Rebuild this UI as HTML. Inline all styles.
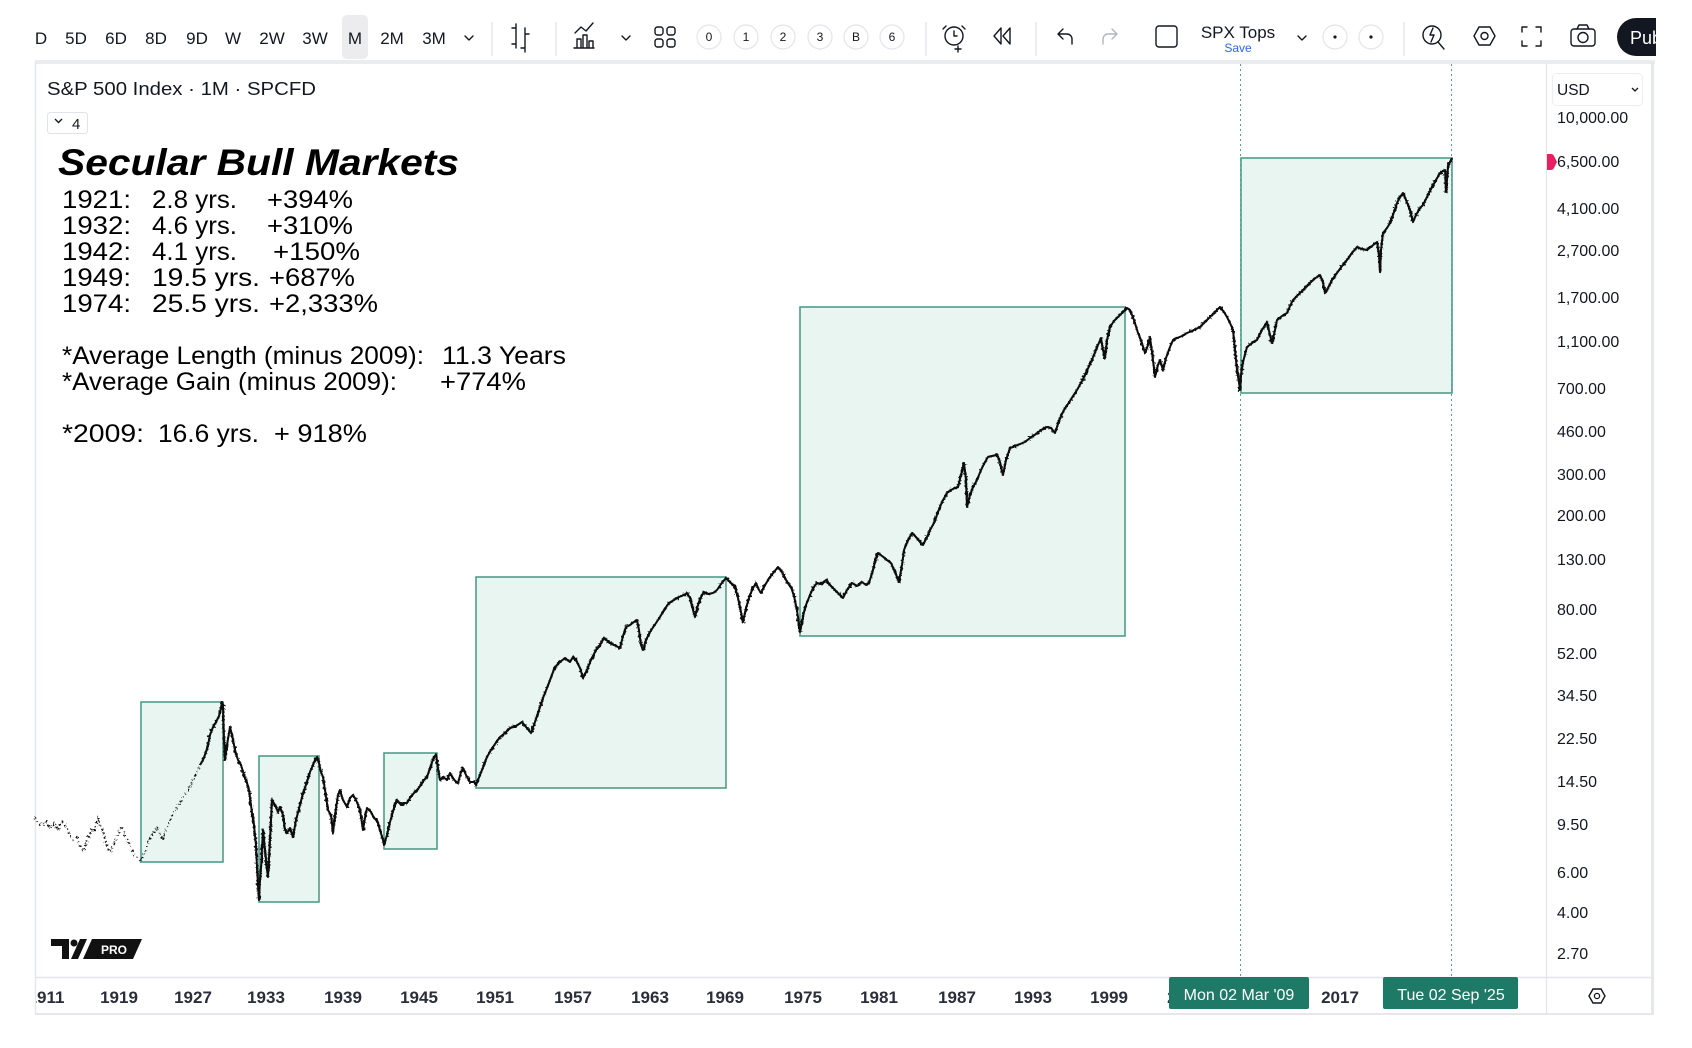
<!DOCTYPE html>
<html><head><meta charset="utf-8"><style>
html,body{margin:0;padding:0;background:#fff;}
svg{display:block;}
text{font-family:"Liberation Sans",Arial,sans-serif;}
</style></head><body>
<svg width="1692" height="1048" viewBox="0 0 1692 1048" xmlns="http://www.w3.org/2000/svg">
<defs>
<clipPath id="cl"><rect x="36" y="62" width="1620" height="960"/></clipPath>
<clipPath id="pub"><rect x="1600" y="0" width="56" height="60"/></clipPath>
<filter id="jit" x="-5%" y="-5%" width="110%" height="110%">
<feTurbulence type="fractalNoise" baseFrequency="0.45" numOctaves="2" seed="3" result="n"/>
<feDisplacementMap in="SourceGraphic" in2="n" scale="5" xChannelSelector="R" yChannelSelector="G"/>
</filter>
</defs>
<rect width="1692" height="1048" fill="#fff"/>

<!-- Toolbar -->
<g font-size="17" fill="#131722" text-anchor="middle">
<rect x="342" y="15" width="26" height="44" rx="5" fill="#ececee"/>
<text x="41" y="44">D</text>
<text x="76" y="44">5D</text>
<text x="116" y="44">6D</text>
<text x="156" y="44">8D</text>
<text x="197" y="44">9D</text>
<text x="233" y="44">W</text>
<text x="272" y="44">2W</text>
<text x="315" y="44">3W</text>
<text x="355" y="44">M</text>
<text x="392" y="44">2M</text>
<text x="434" y="44">3M</text>
</g>
<g fill="none" stroke="#131722" stroke-width="1.4" stroke-linecap="round" stroke-linejoin="round">
<path d="M465,36 l4,4 l4,-4"/>
<path d="M622,36 l4,4 l4,-4"/>
<path d="M1298,36 l4,4 l4,-4"/>
<path d="M516,24 v24 M512,28 h4 M516,44 h-4 M525,28 v24 M525,34 h4 M525,48 h-4"/>
<path d="M574,48 h20 M577,47 v-8 h4 v8 M583,47 v-12 h4 v12 M589,47 v-6 h4 v6 M575,33 l6,-6 l5,4 l7,-8"/>
<rect x="655" y="27" width="8" height="8" rx="2.5"/><rect x="667" y="27" width="8" height="8" rx="2.5"/>
<rect x="655" y="39" width="8" height="8" rx="2.5"/><rect x="667" y="39" width="8" height="8" rx="2.5"/>
<circle cx="954" cy="36" r="9"/><path d="M954,31 v5 h3 M946,26 l-3,3 M962,26 l3,3 M958,46 v6 M955,49 h6"/>
<path d="M1001,28 L994,36 L1001,44 Z M1010,28 L1003,36 L1010,44 Z"/>
<path d="M1058,34 l5,-5 M1058,34 l5,5 M1058,34 h9 a5,5 0 0 1 5,5 v5"/>
<rect x="1156" y="26" width="21" height="21" rx="3"/>
<circle cx="1432" cy="35" r="9"/><path d="M1438,42 l6,7 M1433,28 l-3,7 h4 l-3,7"/>
<path d="M1474,36 l5,-9 h11 l5,9 l-5,9 h-11 z"/><circle cx="1484.5" cy="36" r="3.5"/>
<path d="M1522,32 v-5 h5 M1536,27 h5 v5 M1541,41 v5 h-5 M1527,46 h-5 v-5"/>
<rect x="1571" y="29" width="24" height="17" rx="3"/><circle cx="1583" cy="37.5" r="5"/><path d="M1577,29 l2,-4 h8 l2,4"/>
</g>
<path d="M1117,34 l-5,-5 M1117,34 l-5,5 M1117,34 h-9 a5,5 0 0 0 -5,5 v5" fill="none" stroke="#b2b5be" stroke-width="1.4" stroke-linecap="round" stroke-linejoin="round"/>
<g stroke="#e0e3eb" stroke-width="1.2">
<line x1="492" y1="22" x2="492" y2="56"/><line x1="556" y1="22" x2="556" y2="56"/>
<line x1="926" y1="22" x2="926" y2="56"/><line x1="1036" y1="22" x2="1036" y2="56"/>
<line x1="1404" y1="22" x2="1404" y2="56"/>
</g>
<g fill="#fff" stroke="#e3e5ea" stroke-width="1.2">
<circle cx="709" cy="37" r="12"/><circle cx="746" cy="37" r="12"/><circle cx="783" cy="37" r="12"/>
<circle cx="820" cy="37" r="12"/><circle cx="856" cy="37" r="12"/><circle cx="892" cy="37" r="12"/>
<circle cx="1335" cy="37" r="12"/><circle cx="1371" cy="37" r="12"/>
</g>
<g font-size="12" fill="#131722" text-anchor="middle">
<text x="709" y="41">0</text><text x="746" y="41">1</text><text x="783" y="41">2</text>
<text x="820" y="41">3</text><text x="856" y="41">B</text><text x="892" y="41">6</text>
</g>
<circle cx="1335" cy="37" r="1.6" fill="#131722"/><circle cx="1371" cy="37" r="1.6" fill="#131722"/>
<text x="1238" y="38" font-size="17" fill="#131722" text-anchor="middle">SPX Tops</text>
<text x="1238" y="52" font-size="12" fill="#2962ff" text-anchor="middle">Save</text>
<g clip-path="url(#pub)">
<rect x="1617" y="18" width="80" height="38" rx="19" fill="#131722"/>
<text x="1630" y="44" font-size="18" fill="#fff">Publish</text>
</g>

<!-- Chart frame -->
<rect x="35" y="60" width="1620" height="4" fill="#ebecef"/>
<line x1="35.5" y1="62" x2="35.5" y2="1014" stroke="#e6e7ea" stroke-width="1.5"/>
<rect x="1651" y="62" width="3" height="953" fill="#e6e7ea"/>
<line x1="35" y1="1014" x2="1654" y2="1014" stroke="#e6e7ea" stroke-width="2"/>
<line x1="1546.5" y1="63" x2="1546.5" y2="1014" stroke="#e3e5ea" stroke-width="1.2"/>
<line x1="35" y1="977.5" x2="1652" y2="977.5" stroke="#e3e5ea" stroke-width="1.5"/>

<!-- Boxes -->
<g fill="#e8f5f1" stroke="#4f9d8b" stroke-width="1.6">
<rect x="141" y="702" width="82" height="160"/>
<rect x="259" y="756" width="60" height="146"/>
<rect x="384" y="753" width="53" height="96"/>
<rect x="476" y="577" width="250" height="211"/>
<rect x="800" y="307" width="325" height="329"/>
<rect x="1241" y="158" width="211" height="235"/>
</g>
<g stroke="#5a9e8f" stroke-width="1" stroke-dasharray="2 3">
<line x1="1240.5" y1="64" x2="1240.5" y2="977"/>
<line x1="1451.5" y1="64" x2="1451.5" y2="977"/>
</g>

<!-- Series -->
<g filter="url(#jit)">
<polyline fill="none" stroke="#111" stroke-width="2" stroke-dasharray="1.6 2.6" points="35,817 38,823 42,826 46,822 50,828 54,824 58,830 62,822 66,826 70,835 73,840 77,838 80,846 83,851 86,844 89,835 92,828 95,830 98,818 101,826 104,834 107,846 110,852 113,846 117,838 120,830 122,826 125,836 128,840 131,847 134,855 138,858 141,861 145,852 148,842 151,836 154,832 157,827 160,834 163,840 166,830 170,820 173,813 177,808 180,803 183,797 187,792 190,786 193,781 197,772 200,765"/>
</g>
<g id="ser">
<polyline fill="none" stroke="#0d0d0d" stroke-width="2" stroke-linejoin="round" points="200,765 203,760 206,752 208,745 210,735 213,727 216,722 219,716 221,708 222,702 223,705 224,740 225,760 227,745 230,727 232,735 235,750 238,760 241,765 244,775 247,783 249,790 252,813 254,825 256,845 257,867 258,885 259,900 260,880 261,868 263,830 265,850 267,870 268,877 270,840 272,800 275,805 278,812 280,807 283,815 285,830 287,833 290,828 293,837 296,820 300,805 303,793 307,782 310,772 313,765 315,760 317,757 319,763 321,772 323,777 325,790 328,810 331,815 333,833 335,815 338,795 340,790 343,800 347,807 350,798 353,795 356,800 360,810 363,830 365,818 367,808 371,812 374,818 377,820 380,830 383,840 384,845 387,835 390,822 394,808 397,800 401,805 404,803 407,803 410,798 414,793 417,790 421,785 424,780 427,777 431,765 434,757 436,755 438,768 440,780 443,777 447,780 450,773 453,778 456,782 458,783 461,772 463,768 466,775 470,782 474,782 476,785 480,775 484,765 487,757 491,750 495,744 500,737 505,733 510,728 516,726 522,722 526,727 531,733 535,722 539,710 543,698 547,688 550,680 553,672 555,667 560,662 565,658 570,662 573,657 576,660 580,668 583,678 587,670 591,660 596,650 600,645 604,638 609,642 614,645 620,648 623,636 626,627 630,625 634,622 637,620 639,630 641,645 643,650 646,640 650,632 656,623 660,617 664,610 669,603 674,600 679,597 684,595 687,593 690,598 693,610 695,617 698,605 701,597 704,592 708,594 713,593 717,590 721,584 726,578 730,582 735,587 738,598 741,612 743,622 746,608 750,595 753,588 756,583 759,590 761,593 765,585 770,577 774,572 778,567 782,572 786,580 791,587 794,596 797,610 800,632 802,622 804,612 806,605 810,595 813,588 817,583 821,584 826,580 830,585 835,590 839,594 843,598 847,590 852,583 857,586 862,582 866,585 869,583 873,570 876,558 878,553 882,556 887,560 891,563 895,572 899,582 902,565 904,550 908,540 912,533 916,537 920,542 923,545 927,537 930,530 934,523 938,512 942,502 947,493 951,490 955,488 958,487 961,475 964,463 966,480 967,507 970,495 973,487 977,480 981,470 985,462 988,457 992,456 997,455 1000,462 1003,475 1006,460 1010,448 1015,446 1020,444 1025,442 1030,438 1036,434 1041,430 1047,427 1051,428 1055,433 1058,424 1061,416 1064,410 1068,404 1073,396 1077,390 1082,381 1086,373 1090,364 1094,355 1098,345 1101,338 1103,350 1105,358 1107,340 1110,327 1114,321 1117,318 1120,315 1124,311 1127,308 1130,310 1134,320 1138,333 1141,340 1145,353 1148,345 1150,337 1153,360 1155,377 1158,365 1160,360 1163,370 1166,358 1170,347 1173,340 1177,338 1182,336 1187,333 1192,331 1196,329 1200,327 1205,322 1210,317 1215,312 1220,307 1224,312 1227,317 1230,323 1233,330 1235,350 1237,370 1239,382 1240,390 1241,375 1243,362 1247,347 1252,343 1257,340 1262,330 1267,322 1270,335 1272,343 1275,330 1277,320 1282,316 1287,313 1290,306 1293,300 1298,295 1303,290 1308,285 1313,280 1317,277 1320,275 1323,282 1325,293 1327,290 1332,280 1337,273 1342,266 1347,260 1352,253 1357,247 1362,249 1367,250 1372,246 1377,242 1379,255 1380,272 1381,250 1383,233 1387,228 1390,223 1394,212 1397,203 1400,197 1403,193 1406,200 1410,210 1413,222 1416,215 1420,208 1423,205 1428,195 1432,187 1436,180 1440,173 1445,170 1446,192 1448,167 1450,162 1452,158"/>
</g>
<use href="#ser" filter="url(#jit)"/>

<!-- Header -->
<text x="47" y="95" font-size="18.5" fill="#131722" textLength="269" lengthAdjust="spacingAndGlyphs">S&amp;P 500 Index · 1M · SPCFD</text>
<rect x="47.5" y="112.5" width="40" height="21" rx="3" fill="#fff" stroke="#e0e3eb"/>
<path d="M55,119 l3.5,3.5 l3.5,-3.5" fill="none" stroke="#131722" stroke-width="1.4"/>
<text x="72" y="129" font-size="15" fill="#131722">4</text>

<!-- Annotation text -->
<text x="58" y="175" font-size="37" font-weight="bold" font-style="italic" fill="#000" textLength="401" lengthAdjust="spacingAndGlyphs">Secular Bull Markets</text>
<g font-size="25" fill="#000">
<text x="62" y="208" textLength="69" lengthAdjust="spacingAndGlyphs">1921:</text><text x="152" y="208" textLength="85" lengthAdjust="spacingAndGlyphs">2.8 yrs.</text><text x="267" y="208" textLength="86" lengthAdjust="spacingAndGlyphs">+394%</text>
<text x="62" y="234" textLength="69" lengthAdjust="spacingAndGlyphs">1932:</text><text x="152" y="234" textLength="85" lengthAdjust="spacingAndGlyphs">4.6 yrs.</text><text x="267" y="234" textLength="86" lengthAdjust="spacingAndGlyphs">+310%</text>
<text x="62" y="260" textLength="69" lengthAdjust="spacingAndGlyphs">1942:</text><text x="152" y="260" textLength="85" lengthAdjust="spacingAndGlyphs">4.1 yrs.</text><text x="273" y="260" textLength="87" lengthAdjust="spacingAndGlyphs">+150%</text>
<text x="62" y="286" textLength="69" lengthAdjust="spacingAndGlyphs">1949:</text><text x="152" y="286" textLength="108" lengthAdjust="spacingAndGlyphs">19.5 yrs.</text><text x="269" y="286" textLength="86" lengthAdjust="spacingAndGlyphs">+687%</text>
<text x="62" y="312" textLength="69" lengthAdjust="spacingAndGlyphs">1974:</text><text x="152" y="312" textLength="108" lengthAdjust="spacingAndGlyphs">25.5 yrs.</text><text x="269" y="312" textLength="109" lengthAdjust="spacingAndGlyphs">+2,333%</text>
<text x="62" y="364" textLength="362" lengthAdjust="spacingAndGlyphs">*Average Length (minus 2009):</text><text x="442" y="364" textLength="124" lengthAdjust="spacingAndGlyphs">11.3 Years</text>
<text x="62" y="390" textLength="335" lengthAdjust="spacingAndGlyphs">*Average Gain (minus 2009):</text><text x="440" y="390" textLength="86" lengthAdjust="spacingAndGlyphs">+774%</text>
<text x="62" y="442" textLength="82" lengthAdjust="spacingAndGlyphs">*2009:</text><text x="158" y="442" textLength="101" lengthAdjust="spacingAndGlyphs">16.6 yrs.</text><text x="274" y="442" textLength="93" lengthAdjust="spacingAndGlyphs">+ 918%</text>
</g>

<!-- TV logo -->
<g fill="#111">
<path d="M51,939 h18 v20 h-7 v-13 h-11 z"/>
<circle cx="74" cy="943" r="3.5"/>
<path d="M80,939 h7 l-9,20 h-7 z"/>
<path d="M92,939 h50 l-9,20 h-50 z"/>
</g>
<text x="101" y="954" font-size="12" font-weight="bold" fill="#fff">PRO</text>

<!-- Price axis -->
<rect x="1552.5" y="73.5" width="90" height="32" rx="4" fill="#fff" stroke="#eceef2"/>
<text x="1557" y="95" font-size="15.5" fill="#131722">USD</text>
<path d="M1632,88 l3,3 l3,-3" fill="none" stroke="#131722" stroke-width="1.3"/>
<g font-size="16" fill="#131722">
<text x="1557" y="123">10,000.00</text>
<text x="1557" y="167">6,500.00</text>
<text x="1557" y="214">4,100.00</text>
<text x="1557" y="256">2,700.00</text>
<text x="1557" y="303">1,700.00</text>
<text x="1557" y="347">1,100.00</text>
<text x="1557" y="394">700.00</text>
<text x="1557" y="437">460.00</text>
<text x="1557" y="480">300.00</text>
<text x="1557" y="521">200.00</text>
<text x="1557" y="565">130.00</text>
<text x="1557" y="615">80.00</text>
<text x="1557" y="659">52.00</text>
<text x="1557" y="701">34.50</text>
<text x="1557" y="744">22.50</text>
<text x="1557" y="787">14.50</text>
<text x="1557" y="830">9.50</text>
<text x="1557" y="878">6.00</text>
<text x="1557" y="918">4.00</text>
<text x="1557" y="959">2.70</text>
</g>
<path d="M1547,154 h4 q2,0 3,2 l3,6 l-3,6 q-1,2 -3,2 h-4 z" fill="#e91e63"/>
<path d="M1589,996 l4,-7 h8 l4,7 l-4,7 h-8 z" fill="none" stroke="#131722" stroke-width="1.4"/>
<circle cx="1597" cy="996" r="2.6" fill="none" stroke="#131722" stroke-width="1.3"/>

<!-- Time axis -->
<g font-size="17" font-weight="bold" fill="#2a2e39" text-anchor="middle" clip-path="url(#cl)">
<text x="46" y="1003">1911</text>
<text x="119" y="1003">1919</text>
<text x="193" y="1003">1927</text>
<text x="266" y="1003">1933</text>
<text x="343" y="1003">1939</text>
<text x="419" y="1003">1945</text>
<text x="495" y="1003">1951</text>
<text x="573" y="1003">1957</text>
<text x="650" y="1003">1963</text>
<text x="725" y="1003">1969</text>
<text x="803" y="1003">1975</text>
<text x="879" y="1003">1981</text>
<text x="957" y="1003">1987</text>
<text x="1033" y="1003">1993</text>
<text x="1109" y="1003">1999</text>
<text x="1186" y="1003">2005</text>
<text x="1340" y="1003">2017</text>
</g>
<rect x="1169" y="977" width="140" height="32" rx="2" fill="#1e7a66"/>
<text x="1239" y="1000" font-size="16" fill="#fff" text-anchor="middle">Mon 02 Mar '09</text>
<rect x="1383" y="977" width="135" height="32" rx="2" fill="#1e7a66"/>
<text x="1451" y="1000" font-size="16" fill="#fff" text-anchor="middle">Tue 02 Sep '25</text>
</svg>
</body></html>
